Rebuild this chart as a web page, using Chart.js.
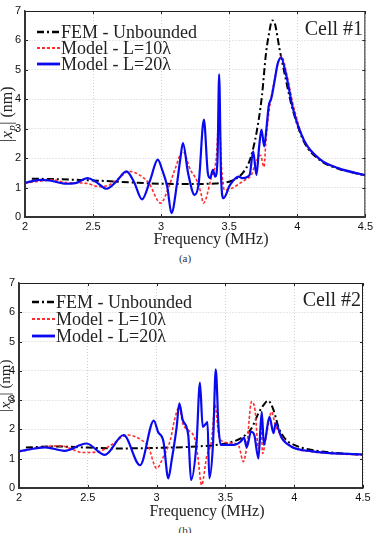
<!DOCTYPE html>
<html lang="en">
<head>
<meta charset="UTF-8">
<title>Cell #1 / Cell #2</title>
<script src="https://cdn.jsdelivr.net/npm/chart.js"></script>
<style>
  body { margin: 0; background: #fff; }
  .wrap { position: relative; width: 376px; height: 533px; overflow: hidden; }
  .box { position: absolute; left: 0; width: 376px; height: 250px; }
  .cap { position: absolute; left: -3px; width: 376px; text-align: center;
         font: 11px "Liberation Serif", serif; color: #333; }
</style>
</head>
<body>
<div class="wrap">
  <div class="box" style="top:0"><canvas id="cell1"></canvas></div>
  <div class="cap" style="top:252px">(a)</div>
  <div class="box" style="top:272px"><canvas id="cell2"></canvas></div>
  <div class="cap" style="top:524px">(b)</div>
</div>
<script>
// axis ticks
const xTicks = [2, 2.5, 3, 3.5, 4, 4.5];
const yTicks = [0, 1, 2, 3, 4, 5, 6, 7];
const seriesNames = ['FEM - Unbounded', 'Model - L=10λ', 'Model - L=20λ'];

// Cell #1 - FEM unbounded
const fem1F = [2.05, 2.2, 2.4, 2.6, 2.8, 3.0, 3.2, 3.4, 3.5, 3.55, 3.6, 3.64, 3.66, 3.70, 3.74, 3.77, 3.795, 3.815, 3.835, 3.87, 3.91, 3.96, 4.05, 4.17, 4.3, 4.4, 4.5];
const fem1Y = [1.3, 1.29, 1.26, 1.22, 1.17, 1.13, 1.12, 1.14, 1.2, 1.3, 1.5, 1.8, 2.05, 2.85, 4.1, 5.55, 6.3, 6.68, 6.58, 5.7, 4.8, 3.76, 2.55, 1.92, 1.64, 1.52, 1.41];
// Cell #1 - model L=10λ
const m10c1F = [2.0, 2.11, 2.2, 2.3, 2.44, 2.55, 2.62, 2.69, 2.765, 2.84, 2.91, 2.996, 3.057, 3.1, 3.16, 3.215, 3.26, 3.29, 3.31, 3.37, 3.405, 3.426, 3.445, 3.465, 3.52, 3.58, 3.63, 3.66, 3.70, 3.73, 3.755, 3.77, 3.79, 3.81, 3.835, 3.86, 3.885, 3.92, 3.97, 4.05, 4.17, 4.3, 4.5];
const m10c1Y = [1.15, 1.22, 1.26, 1.17, 1.15, 1.03, 1.09, 1.32, 1.55, 1.43, 1.15, 0.47, 1.03, 1.6, 2.23, 1.6, 1.26, 0.86, 0.47, 1.37, 2.0, 3.42, 1.6, 0.92, 0.98, 1.15, 1.3, 1.4, 1.9, 2.1, 1.7, 2.6, 3.5, 4.1, 4.7, 5.25, 5.47, 4.9, 3.8, 2.6, 1.95, 1.66, 1.42];
// Cell #1 - model L=20λ
const m20c1F = [2.0, 2.11, 2.18, 2.30, 2.37, 2.46, 2.52, 2.60, 2.67, 2.745, 2.80, 2.86, 2.92, 2.975, 3.008, 3.045, 3.076, 3.117, 3.14, 3.16, 3.198, 3.246, 3.276, 3.314, 3.343, 3.36, 3.38, 3.397, 3.414, 3.426, 3.44, 3.458, 3.506, 3.57, 3.60, 3.65, 3.676, 3.70, 3.72, 3.737, 3.757, 3.775, 3.79, 3.81, 3.835, 3.855, 3.88, 3.92, 3.97, 4.05, 4.17, 4.3, 4.5];
const m20c1Y = [1.16, 1.26, 1.24, 1.13, 1.15, 1.32, 1.2, 0.96, 1.2, 1.55, 1.2, 0.6, 1.26, 1.95, 1.6, 1.03, 0.13, 1.15, 1.95, 2.51, 1.49, 0.75, 1.15, 3.31, 1.49, 1.32, 1.6, 1.37, 1.95, 4.85, 1.37, 0.64, 1.09, 1.37, 1.32, 1.43, 2.23, 1.43, 2.4, 2.97, 2.4, 3.08, 3.77, 4.05, 4.67, 5.19, 5.42, 4.79, 3.65, 2.6, 1.95, 1.66, 1.42];

// Cell #2 - FEM unbounded
const fem2F = [2.05, 2.25, 2.5, 2.7, 3.0, 3.3, 3.5, 3.62, 3.69, 3.74, 3.78, 3.81, 3.85, 3.885, 3.93, 4.0, 4.13, 4.3, 4.5];
const fem2Y = [1.38, 1.42, 1.38, 1.35, 1.37, 1.42, 1.52, 1.72, 2.04, 2.55, 2.85, 2.98, 2.66, 2.09, 1.7, 1.47, 1.3, 1.2, 1.13];
// Cell #2 - model L=10λ
const m10c2F = [2.0, 2.16, 2.30, 2.47, 2.58, 2.67, 2.79, 2.89, 2.94, 3.0, 3.05, 3.10, 3.13, 3.165, 3.19, 3.23, 3.28, 3.30, 3.327, 3.364, 3.40, 3.425, 3.45, 3.485, 3.57, 3.60, 3.63, 3.655, 3.69, 3.715, 3.74, 3.76, 3.77, 3.80, 3.836, 3.86, 3.90, 3.98, 4.13, 4.3, 4.5];
const m10c2Y = [1.24, 1.39, 1.44, 1.21, 1.24, 1.47, 1.81, 1.64, 1.41, 0.67, 1.07, 1.64, 2.32, 2.77, 2.2, 1.98, 1.64, 1.07, 0.1, 1.07, 1.64, 2.83, 1.87, 1.58, 1.52, 1.4, 0.9, 1.41, 2.95, 2.66, 1.35, 2.04, 1.18, 1.87, 2.6, 2.2, 1.81, 1.41, 1.24, 1.17, 1.13];
// Cell #2 - model L=20λ
const m20c2F = [2.0, 2.116, 2.19, 2.33, 2.49, 2.625, 2.76, 2.88, 2.98, 3.01, 3.05, 3.085, 3.11, 3.146, 3.165, 3.19, 3.23, 3.25, 3.29, 3.315, 3.335, 3.36, 3.37, 3.383, 3.41, 3.43, 3.45, 3.466, 3.56, 3.61, 3.635, 3.655, 3.686, 3.71, 3.74, 3.764, 3.78, 3.82, 3.85, 3.865, 3.91, 3.98, 4.13, 4.3, 4.5];
const m20c2Y = [1.25, 1.35, 1.39, 1.27, 1.52, 1.13, 1.81, 0.78, 2.3, 1.92, 1.58, 0.33, 0.96, 2.09, 2.89, 2.32, 1.81, 0.27, 1.52, 3.6, 2.09, 2.2, 2.25, 0.33, 1.52, 4.05, 2.09, 1.47, 1.47, 1.58, 1.72, 1.39, 1.92, 1.81, 1.01, 2.6, 1.47, 2.43, 1.87, 2.2, 1.7, 1.41, 1.25, 1.18, 1.15];

const pts = (F, Y) => F.map((x, i) => ({x: x, y: Y[i]}));

function makeSets(femF, femY, aF, aY, bF, bY) {
    return [
        {label: seriesNames[0], data: pts(femF, femY), borderColor: '#000', borderWidth: 2,
         borderDash: [7, 3, 2, 3], order: 3},
        {label: seriesNames[1], data: pts(aF, aY), borderColor: 'rgb(255,45,45)', borderWidth: 1.6,
         borderDash: [3, 2], order: 2},
        {label: seriesNames[2], data: pts(bF, bY), borderColor: 'rgb(10,10,240)', borderWidth: 2.2,
         borderDash: [], order: 1}
    ];
}

const SERIF = '"Liberation Serif", "Times New Roman", serif';
const SANS = '"Liberation Sans", Arial, sans-serif';

// frame, inner ticks, legend, labels
const decor = {
    id: 'decor',
    afterDraw(chart, args, o) {
        const ctx = chart.ctx, a = chart.chartArea;
        const xs = chart.scales.x, ys = chart.scales.y;
        ctx.save();
        ctx.strokeStyle = '#222';
        ctx.lineWidth = 1;
        ctx.setLineDash([]);
        ctx.beginPath();
        xTicks.forEach(v => {
            const px = Math.round(xs.getPixelForValue(v)) + 0.5;
            ctx.moveTo(px, a.bottom); ctx.lineTo(px, a.bottom - 3);
            ctx.moveTo(px, a.top); ctx.lineTo(px, a.top + 3);
        });
        yTicks.forEach(v => {
            const py = Math.round(ys.getPixelForValue(v)) + 0.5;
            ctx.moveTo(a.left, py); ctx.lineTo(a.left + 3, py);
            ctx.moveTo(a.right, py); ctx.lineTo(a.right - 3, py);
        });
        ctx.stroke();
        ctx.strokeRect(a.left + 0.5, a.top + 0.5, a.width - 1, a.height - 1);
        ctx.lineWidth = 2;
        ctx.strokeStyle = '#333';
        ctx.beginPath();
        ctx.moveTo(a.left, a.top); ctx.lineTo(a.left, a.bottom); ctx.lineTo(a.right, a.bottom);
        ctx.stroke();

        // legend
        ctx.font = '18px ' + SERIF;
        ctx.textBaseline = 'middle';
        ctx.textAlign = 'left';
        chart.data.datasets.forEach((ds, i) => {
            const y = o.legY + i * o.legGap;
            ctx.strokeStyle = ds.borderColor;
            ctx.lineWidth = ds.borderWidth + 0.6;
            ctx.setLineDash(ds.borderDash);
            ctx.beginPath();
            ctx.moveTo(o.legX, y); ctx.lineTo(o.legX + 23, y);
            ctx.stroke();
            ctx.setLineDash([]);
            ctx.fillStyle = '#222';
            ctx.fillText(ds.label, o.legX + 24, y + 1);
        });

        // cell label
        ctx.font = '20px ' + SERIF;
        ctx.textAlign = 'right';
        ctx.textBaseline = 'alphabetic';
        ctx.fillText(o.cell, o.cellX, o.cellY);

        // x title
        ctx.font = '16px ' + SERIF;
        ctx.textAlign = 'center';
        ctx.textBaseline = 'middle';
        ctx.fillText('Frequency (MHz)', o.titleX, o.titleY);

        // y title |x_p| (nm)
        ctx.translate(o.yTitleX, (a.top + a.bottom) / 2);
        ctx.rotate(-Math.PI / 2);
        ctx.textAlign = 'left';
        const fz = o.yTitleSize;
        const f1 = fz + 'px ' + SERIF, fi = 'italic ' + fz + 'px ' + SERIF, fs = 'italic ' + Math.round(fz * 0.7) + 'px ' + SERIF;
        const parts = [['|', f1, 0], ['x', fi, 0], ['p', fs, 4], ['| (nm)', f1, 0]];
        let w = 0;
        parts.forEach(p => { ctx.font = p[1]; w += ctx.measureText(p[0]).width + 0.5; });
        let x = -w / 2;
        parts.forEach(p => {
            ctx.font = p[1];
            ctx.fillText(p[0], x, p[2]);
            x += ctx.measureText(p[0]).width + 0.5;
        });
        ctx.restore();
    }
};

function makeChart(id, sets, o) {
    return new Chart(document.getElementById(id), {
        type: 'line',
        data: {datasets: sets},
        plugins: [decor],
        options: {
            responsive: true,
            maintainAspectRatio: false,
            animation: false,
            layout: {padding: {top: 11, right: o.padRight, bottom: 0, left: 0}},
            elements: {point: {radius: 0}, line: {cubicInterpolationMode: 'monotone'}},
            plugins: {legend: {display: false}, tooltip: {enabled: false}, decor: o},
            scales: {
                x: {
                    type: 'linear', min: 2, max: 4.5,
                    afterBuildTicks: s => { s.ticks = xTicks.map(v => ({value: v})); },
                    afterFit: s => { s.height = o.xHeight; },
                    ticks: {font: {family: SANS, size: 11}, color: '#111', padding: 3, maxRotation: 0,
                            callback: v => String(v)},
                    grid: {color: '#cfcfcf', lineWidth: 1, drawTicks: false},
                    border: {display: true, color: '#333', width: 1.5, dash: [1, 2]}
                },
                y: {
                    min: 0, max: 7,
                    afterBuildTicks: s => { s.ticks = yTicks.map(v => ({value: v})); },
                    afterFit: s => { s.width = o.yWidth; },
                    ticks: {font: {family: SANS, size: 11}, color: '#111', padding: 4,
                            callback: v => String(v)},
                    grid: {color: '#cfcfcf', lineWidth: 1, drawTicks: false},
                    border: {display: true, color: '#333', width: 1.5, dash: [1, 2]}
                }
            }
        }
    });
}

makeChart('cell1', makeSets(fem1F, fem1Y, m10c1F, m10c1Y, m20c1F, m20c1Y), {
    yWidth: 25, xHeight: 33, padRight: 8,
    legX: 37, legY: 32, legGap: 16,
    cell: 'Cell #1', cellX: 363, cellY: 35,
    titleX: 211, titleY: 240, yTitleX: 8, yTitleSize: 16
});
makeChart('cell2', makeSets(fem2F, fem2Y, m10c2F, m10c2Y, m20c2F, m20c2Y), {
    yWidth: 19, xHeight: 34, padRight: 13,
    legX: 32, legY: 30, legGap: 17,
    cell: 'Cell #2', cellX: 361, cellY: 34,
    titleX: 207, titleY: 240, yTitleX: 6, yTitleSize: 15
});
</script>
</body>
</html>
